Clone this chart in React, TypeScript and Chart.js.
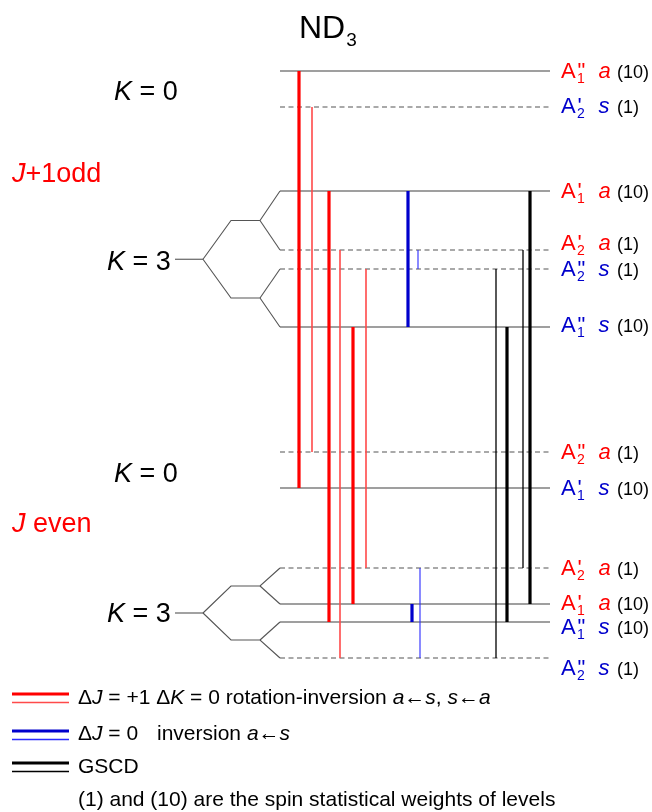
import React, { useEffect, useRef } from "react";
import { Chart, registerables } from "chart.js";

Chart.register(...registerables);

const FONT = '"Liberation Sans", Arial, Helvetica, sans-serif';

// ---- Energy levels (arbitrary energy units, 0 = lowest level) ----
// upper block: K=0 (J+1 odd), K=3 (J+1 odd); lower block: K=0 (J even), K=3 (J even)
const levelEnergy = [587, 551, 467, 408, 389, 331, 206, 170, 90, 54, 36, 0];
const levelSub = ["1", "2", "1", "2", "2", "1", "2", "1", "2", "1", "1", "2"];
const levelPrime = ['"', "'", "'", "'", '"', '"', '"', "'", "'", "'", '"', '"'];
const levelParity = ["a", "s", "a", "a", "s", "s", "a", "s", "a", "a", "s", "s"];
const levelWeight = [10, 1, 10, 1, 1, 10, 1, 10, 1, 10, 10, 1];
const labelNudge = [-1, -2, -1, -8, -1, -3, -1, -1, -1, -2, 4, 9];

// K=3 groups (indices into levelEnergy), top to bottom
const k3Groups = [
  [2, 3, 4, 5],
  [8, 9, 10, 11],
];

// ---- Transitions ----
const transX = [299, 312, 329, 340, 353, 366, 408, 418, 412, 420, 496, 507, 523, 530];
const transUpper = [587, 551, 467, 408, 331, 389, 467, 408, 54, 90, 389, 331, 408, 467];
const transLower = [170, 206, 36, 0, 54, 90, 331, 389, 36, 0, 0, 36, 90, 54];
const transType = ["rot", "rot", "rot", "rot", "rot", "rot", "inv", "inv", "inv", "inv", "gscd", "gscd", "gscd", "gscd"];
const transStrong = [1, 0, 1, 0, 1, 0, 1, 0, 1, 0, 0, 1, 0, 1];

// layout columns (x units)
const treeX = [175, 203, 231, 260, 280];
const levelXEnd = 550;

const STYLE: Record<string, { strong: string; weak: string; ws: number; ww: number }> = {
  rot: { strong: "#ff0000", weak: "#ff4a4a", ws: 3.2, ww: 1.6 },
  inv: { strong: "#0000cc", weak: "#2b2bff", ws: 3.2, ww: 1.1 },
  gscd: { strong: "#000000", weak: "#000000", ws: 3.2, ww: 1.3 },
};

const RED = "#ff0000";
const BLUE = "#0000cc";
const LEVEL_COLOR = "#404040";

type Seg = { t: string; size?: number; it?: boolean; c?: string; dy?: number };

function drawRich(ctx: CanvasRenderingContext2D, x: number, base: number, segs: Seg[], defSize: number) {
  let cx = x;
  for (const s of segs) {
    ctx.font = `${s.it ? "italic " : ""}${s.size || defSize}px ${FONT}`;
    ctx.fillStyle = s.c || "#000";
    ctx.fillText(s.t, cx, base + (s.dy || 0));
    cx += ctx.measureText(s.t).width;
  }
  return cx;
}

const textPlugin = {
  id: "ndLabels",
  afterDatasetsDraw(chart: any) {
    const ctx: CanvasRenderingContext2D = chart.ctx;
    const xs = chart.scales.x;
    const ys = chart.scales.y;
    ctx.save();
    ctx.textBaseline = "alphabetic";
    ctx.textAlign = "left";

    // title
    const tEnd = drawRich(ctx, 299, 38, [{ t: "ND", size: 32 }], 32);
    drawRich(ctx, tEnd + 1, 46, [{ t: "3", size: 19 }], 19);

    // left labels
    drawRich(ctx, 114, 100, [{ t: "K", it: true }, { t: " = 0" }], 27);
    drawRich(ctx, 12, 182, [{ t: "J", it: true, c: RED }, { t: "+1odd", c: RED }], 27);
    drawRich(ctx, 107, 270, [{ t: "K", it: true }, { t: " = 3" }], 27);
    drawRich(ctx, 114, 482, [{ t: "K", it: true }, { t: " = 0" }], 27);
    drawRich(ctx, 12, 532, [{ t: "J", it: true, c: RED }, { t: " even", c: RED }], 27);
    drawRich(ctx, 107, 622, [{ t: "K", it: true }, { t: " = 3" }], 27);

    // level labels
    for (let i = 0; i < levelEnergy.length; i++) {
      const yc = ys.getPixelForValue(levelEnergy[i]) + labelNudge[i];
      const base = yc + 8;
      const col = levelParity[i] === "a" ? RED : BLUE;
      const x0 = xs.getPixelForValue(levelXEnd) + 11;
      ctx.fillStyle = col;
      ctx.font = `22px ${FONT}`;
      ctx.fillText("A", x0, base);
      ctx.font = `14px ${FONT}`;
      ctx.fillText(levelSub[i], x0 + 16, base + 5);
      ctx.font = `22px ${FONT}`;
      ctx.fillText(levelPrime[i], x0 + 16.5, base);
      ctx.font = `italic 22px ${FONT}`;
      ctx.fillText(levelParity[i], x0 + 37.5, base);
      ctx.fillStyle = "#000";
      ctx.font = `18px ${FONT}`;
      ctx.fillText(`(${levelWeight[i]})`, x0 + 56, base);
    }

    // legend
    const sw = [
      { y: 694, type: "rot" },
      { y: 731, type: "inv" },
      { y: 763, type: "gscd" },
    ];
    for (const s of sw) {
      const st = STYLE[s.type];
      ctx.strokeStyle = st.strong;
      ctx.lineWidth = 3;
      ctx.beginPath();
      ctx.moveTo(12, s.y);
      ctx.lineTo(69, s.y);
      ctx.stroke();
      ctx.strokeStyle = st.weak;
      ctx.lineWidth = 1.3;
      ctx.beginPath();
      ctx.moveTo(12, s.y + 8.5);
      ctx.lineTo(69, s.y + 8.5);
      ctx.stroke();
    }
    const LS = 21;
    drawRich(
      ctx,
      78,
      704,
      [
        { t: "Δ" },
        { t: "J", it: true },
        { t: " = +1 Δ" },
        { t: "K", it: true },
        { t: " = 0 rotation-inversion " },
        { t: "a", it: true },
        { t: "←" },
        { t: "s", it: true },
        { t: ", " },
        { t: "s", it: true },
        { t: "←" },
        { t: "a", it: true },
      ],
      LS
    );
    drawRich(ctx, 78, 740, [{ t: "Δ" }, { t: "J", it: true }, { t: " = 0" }], LS);
    drawRich(ctx, 157, 740, [{ t: "inversion " }, { t: "a", it: true }, { t: "←" }, { t: "s", it: true }], LS);
    drawRich(ctx, 78, 773, [{ t: "GSCD" }], LS);
    drawRich(ctx, 78, 806, [{ t: "(1) and (10) are the spin statistical weights of levels" }], LS);

    ctx.restore();
  },
};

function buildDatasets() {
  const ds: any[] = [];
  // transitions first so they are drawn on top
  for (let i = 0; i < transX.length; i++) {
    const st = STYLE[transType[i]];
    ds.push({
      data: [
        { x: transX[i], y: transUpper[i] },
        { x: transX[i], y: transLower[i] },
      ],
      borderColor: transStrong[i] ? st.strong : st.weak,
      borderWidth: transStrong[i] ? st.ws : st.ww,
      borderCapStyle: "butt",
    });
  }
  // levels
  for (let i = 0; i < levelEnergy.length; i++) {
    const dashed = levelWeight[i] === 1;
    ds.push({
      data: [
        { x: treeX[4], y: levelEnergy[i] },
        { x: levelXEnd, y: levelEnergy[i] },
      ],
      borderColor: dashed ? "#555555" : LEVEL_COLOR,
      borderWidth: 1.2,
      borderDash: dashed ? [5, 3.5] : [],
    });
  }
  // K = 3 splitting trees
  for (const g of k3Groups) {
    const e = g.map((k) => levelEnergy[k]);
    const mu = (e[0] + e[1]) / 2;
    const ml = (e[2] + e[3]) / 2;
    const stem = (mu + ml) / 2;
    const lines = [
      [[treeX[0], stem], [treeX[1], stem]],
      [[treeX[1], stem], [treeX[2], mu], [treeX[3], mu], [treeX[4], e[0]]],
      [[treeX[3], mu], [treeX[4], e[1]]],
      [[treeX[1], stem], [treeX[2], ml], [treeX[3], ml], [treeX[4], e[3]]],
      [[treeX[3], ml], [treeX[4], e[2]]],
    ];
    for (const l of lines) {
      ds.push({
        data: l.map(([x, y]) => ({ x, y })),
        borderColor: "#555555",
        borderWidth: 1.1,
      });
    }
  }
  return ds.map((d) => ({ showLine: true, pointRadius: 0, pointHoverRadius: 0, tension: 0, fill: false, ...d }));
}

export default function App() {
  const ref = useRef<HTMLCanvasElement | null>(null);
  useEffect(() => {
    if (!ref.current) return;
    const chart = new Chart(ref.current, {
      type: "scatter",
      data: { datasets: buildDatasets() },
      options: {
        animation: false,
        responsive: false,
        maintainAspectRatio: false,
        devicePixelRatio: 1,
        events: [],
        layout: { padding: 0 },
        plugins: { legend: { display: false }, tooltip: { enabled: false } },
        scales: {
          x: { type: "linear", min: 0, max: 652, display: false },
          y: { type: "linear", min: -154, max: 658, display: false },
        },
      },
      plugins: [textPlugin],
    } as any);
    return () => chart.destroy();
  }, []);
  return (
    <div style={{ position: "absolute", left: 0, top: 0, width: 652, height: 812, background: "#fff" }}>
      <canvas ref={ref} width={652} height={812} style={{ display: "block" }} />
    </div>
  );
}
